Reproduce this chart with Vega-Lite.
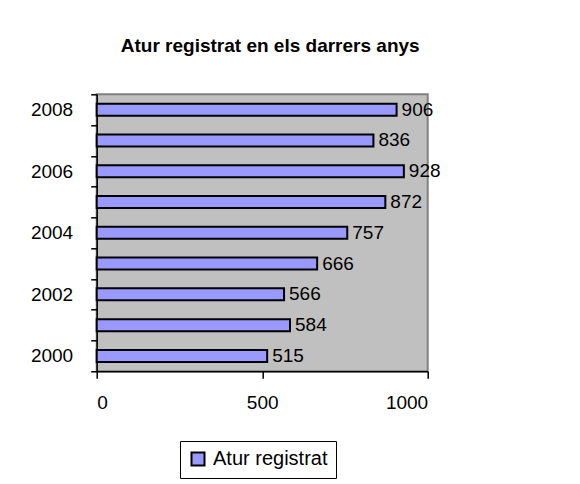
{
  "$schema": "https://vega.github.io/schema/vega-lite/v6.json",
  "width": 331,
  "height": 277,
  "autosize": {"type": "none"},
  "padding": {"left": 96.7, "top": 94.3, "right": 152.3, "bottom": 112.7},
  "background": "white",
  "title": {
    "text": "Atur registrat en els darrers anys",
    "fontSize": 19,
    "font": "Liberation Sans",
    "fontWeight": "bold",
    "color": "black",
    "anchor": "middle",
    "offset": 29,
    "dx": 8
  },
  "data": {
    "values": [
      {"any": 2000, "atur": 515},
      {"any": 2001, "atur": 584},
      {"any": 2002, "atur": 566},
      {"any": 2003, "atur": 666},
      {"any": 2004, "atur": 757},
      {"any": 2005, "atur": 872},
      {"any": 2006, "atur": 928},
      {"any": 2007, "atur": 836},
      {"any": 2008, "atur": 906}
    ]
  },
  "layer": [
    {
      "mark": {"type": "bar", "size": 12, "stroke": "black", "strokeWidth": 2},
      "encoding": {
        "y": {
          "field": "any",
          "type": "ordinal",
          "sort": "descending",
          "scale": {"paddingInner": 0, "paddingOuter": 0},
          "axis": {
            "title": null,
            "tickBand": "extent",
            "labelExpr": "datum.value % 2 == 0 ? datum.label : ''",
            "labelOverlap": false,
            "tickSize": 6,
            "tickColor": "black",
            "tickWidth": 1.5,
            "domainColor": "black",
            "domainWidth": 1.5,
            "labelFontSize": 19,
            "labelFont": "Liberation Sans",
            "labelColor": "black",
            "labelPadding": 18,
            "grid": false
          }
        },
        "x": {
          "field": "atur",
          "type": "quantitative",
          "scale": {"domain": [0, 1000], "nice": false},
          "axis": {
            "title": null,
            "values": [0, 500, 1000],
            "format": "d",
            "tickSize": 7,
            "tickColor": "black",
            "tickWidth": 1.5,
            "domainColor": "black",
            "domainWidth": 1.5,
            "labelFontSize": 19,
            "labelFont": "Liberation Sans",
            "labelColor": "black",
            "labelPadding": 15,
            "grid": false
          }
        },
        "color": {
          "datum": "Atur registrat",
          "type": "nominal",
          "scale": {"range": ["#9999FF"]},
          "legend": {
            "title": null,
            "orient": "none",
            "legendX": 83.3,
            "legendY": 346.7,
            "strokeColor": "black",
            "fillColor": "white",
            "padding": 8,
            "symbolType": "square",
            "symbolSize": 169,
            "symbolStrokeColor": "black",
            "symbolStrokeWidth": 2,
            "labelFontSize": 20,
            "labelFont": "Liberation Sans",
            "labelColor": "black",
            "labelOffset": 5
          }
        }
      }
    },
    {
      "mark": {
        "type": "text",
        "align": "left",
        "baseline": "middle",
        "dx": 5,
        "fontSize": 19,
        "font": "Liberation Sans",
        "color": "black"
      },
      "encoding": {
        "y": {"field": "any", "type": "ordinal", "sort": "descending"},
        "x": {"field": "atur", "type": "quantitative"},
        "text": {"field": "atur"}
      }
    }
  ],
  "config": {
    "view": {"fill": "#C0C0C0", "stroke": "#808080", "strokeWidth": 2},
    "font": "Liberation Sans"
  }
}
